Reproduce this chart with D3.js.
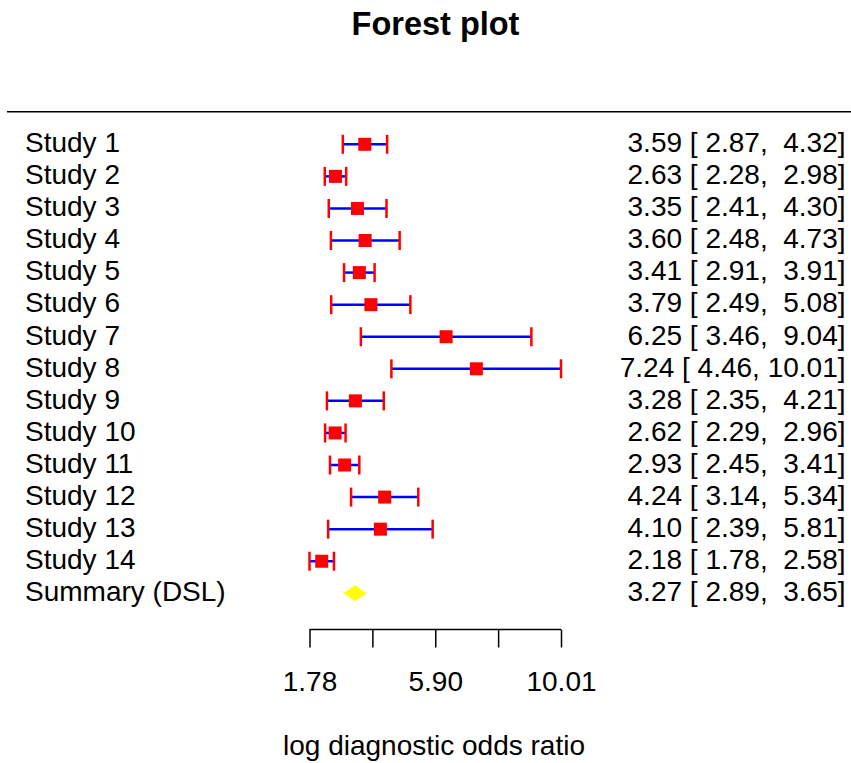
<!DOCTYPE html>
<html>
<head>
<meta charset="utf-8">
<script src="https://cdn.jsdelivr.net/npm/d3@7"></script>
<style>
  body { margin: 0; background: #fff; }
  svg text { font-family: "Liberation Sans", Arial, sans-serif; fill: #000; }
</style>
</head>
<body>
<div class="chart"></div>
<script>

// data
const studies = ['Study 1', 'Study 2', 'Study 3', 'Study 4', 'Study 5', 'Study 6', 'Study 7',
  'Study 8', 'Study 9', 'Study 10', 'Study 11', 'Study 12', 'Study 13', 'Study 14'];
const estimates = [3.59, 2.63, 3.35, 3.60, 3.41, 3.79, 6.25, 7.24, 3.28, 2.62, 2.93, 4.24, 4.10, 2.18];
const lower = [2.87, 2.28, 2.41, 2.48, 2.91, 2.49, 3.46, 4.46, 2.35, 2.29, 2.45, 3.14, 2.39, 1.78];
const upper = [4.32, 2.98, 4.30, 4.73, 3.91, 5.08, 9.04, 10.01, 4.21, 2.96, 3.41, 5.34, 5.81, 2.58];

const summaryLabel = 'Summary (DSL)';
const summary = [3.27, 2.89, 3.65]; // estimate, lower, upper

const tickValues = [1.78, 3.8375, 5.895, 7.9525, 10.01];
const tickLabels = ['1.78', '', '5.90', '', '10.01'];

const width = 851;
const height = 763;
const fontSize = '28px';

let svg = d3.select('.chart')
  .append('svg')
    .attr('width', width)
    .attr('height', height);

let x = d3.scaleLinear()
  .domain([1.78, 10.01])
  .range([309.5, 561]);

// rows: studies then summary
let y = d3.scalePoint()
  .domain(studies.concat([summaryLabel]))
  .range([144.3, 593.3]);

const fmt = d3.format('.2f');
function pad(v) {
  let s = fmt(v);
  return s.length < 5 ? ' ' + s : s;
}
function ciText(e, l, u) {
  return `${fmt(e)} [${pad(l)}, ${pad(u)}]`;
}

// title
svg.append('text')
  .attr('x', 435.5)
  .attr('y', 35)
  .attr('text-anchor', 'middle')
  .style('font-size', '32.5px')
  .style('font-weight', 'bold')
  .text('Forest plot');

// top rule
svg.append('line')
  .attr('x1', 7).attr('x2', width)
  .attr('y1', 111.7).attr('y2', 111.7)
  .style('stroke', '#000')
  .style('stroke-width', 1.5);

let rows = studies.map((s, i) => ({ name: s, est: estimates[i], lo: lower[i], hi: upper[i] }));

let g = svg.selectAll('g.row')
  .data(rows)
  .enter()
  .append('g')
    .attr('class', 'row');

g.append('line')
  .attr('x1', d => x(d.lo))
  .attr('x2', d => x(d.hi))
  .attr('y1', d => y(d.name))
  .attr('y2', d => y(d.name))
  .style('stroke', '#0000ff')
  .style('stroke-width', 2.5);

g.selectAll('line.cap')
  .data(d => [{ v: d.lo, n: d.name }, { v: d.hi, n: d.name }])
  .enter()
  .append('line')
    .attr('class', 'cap')
    .attr('x1', d => x(d.v))
    .attr('x2', d => x(d.v))
    .attr('y1', d => y(d.n) - 9.5)
    .attr('y2', d => y(d.n) + 9.5)
    .style('stroke', '#ff0000')
    .style('stroke-width', 2.5);

g.append('rect')
  .attr('x', d => x(d.est) - 6.5)
  .attr('y', d => y(d.name) - 6.5)
  .attr('width', 13)
  .attr('height', 13)
  .style('fill', '#ff0000');

// summary diamond
let sy = y(summaryLabel);
svg.append('path')
  .attr('d', `M${x(summary[1])},${sy} L${x(summary[0])},${sy - 8} L${x(summary[2])},${sy} L${x(summary[0])},${sy + 8} Z`)
  .style('fill', '#ffff00');

// left labels
svg.selectAll('text.lab')
  .data(studies.concat([summaryLabel]))
  .enter()
  .append('text')
    .attr('class', 'lab')
    .attr('x', 25)
    .attr('y', d => y(d) + 7.8)
    .style('font-size', fontSize)
    .text(d => d);

// right CI text
let ciRows = rows.map(d => ({ name: d.name, t: ciText(d.est, d.lo, d.hi) }));
ciRows.push({ name: summaryLabel, t: ciText(summary[0], summary[1], summary[2]) });

svg.selectAll('text.ci')
  .data(ciRows)
  .enter()
  .append('text')
    .attr('class', 'ci')
    .attr('x', 845.5)
    .attr('y', d => y(d.name) + 7.8)
    .attr('text-anchor', 'end')
    .style('font-size', fontSize)
    .style('white-space', 'pre')
    .text(d => d.t);

// x axis
let axis = d3.axisBottom(x)
  .tickValues(tickValues)
  .tickSize(18)
  .tickPadding(24)
  .tickFormat((d, i) => tickLabels[i]);

let ax = svg.append('g')
  .attr('transform', 'translate(0,629.5)')
  .call(axis);

ax.select('.domain')
  .attr('d', `M${x(tickValues[0])},0H${x(tickValues[4])}`)
  .style('stroke', '#000')
  .style('stroke-width', 1.5);
ax.selectAll('.tick line').style('stroke', '#000').style('stroke-width', 1.5);
ax.selectAll('.tick text')
  .style('font-size', fontSize)
  .style('font-family', '"Liberation Sans", Arial, sans-serif');

svg.append('text')
  .attr('x', 434)
  .attr('y', 755)
  .attr('text-anchor', 'middle')
  .style('font-size', fontSize)
  .text('log diagnostic odds ratio');

</script>
</body>
</html>
